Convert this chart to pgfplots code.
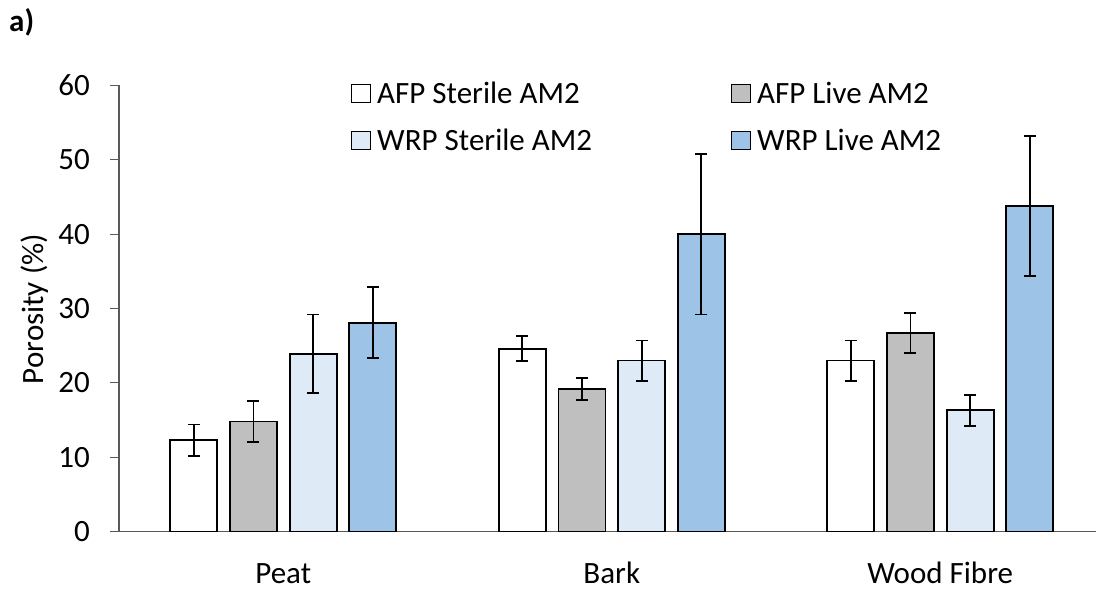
\documentclass[border=0pt]{standalone}
\usepackage{fontspec}
\setmainfont{Carlito}
\usepackage{pgfplots}
\pgfplotsset{compat=1.18}
\definecolor{axgray}{HTML}{595959}
\definecolor{cgrey}{HTML}{BFBFBF}
\definecolor{clblue}{HTML}{DEEBF7}
\definecolor{cblue}{HTML}{9DC3E6}
\begin{document}
\begin{tikzpicture}[x=1pt,y=1pt]
\path[use as bounding box] (0,0) rectangle (1096,590);
\begin{axis}[
  at={(119pt,58.5pt)}, anchor=south west,
  scale only axis, width=977pt, height=446pt,
  xmin=-0.5, xmax=2.474, ymin=0, ymax=60,
  axis lines*=left,
  axis line style={draw=axgray, line width=1.3pt},
  ytick={0,10,...,60},
  xtick={0,1,2}, xticklabels={Peat,Bark,Wood Fibre},
  x tick style={draw=none},
  y tick style={draw=axgray, line width=1.3pt},
  major tick length=9pt, tick align=outside, tick pos=left,
  /pgf/number format/assume math mode=true,
  tick label style={font=\fontsize{31}{37}\selectfont, inner sep=0pt},
  yticklabel style={anchor=east, xshift=-20pt},
  xticklabel style={anchor=base, yshift=-43pt},
  ybar=12.7pt, bar width=47pt,
  every axis plot/.append style={draw=black, line width=1.8pt,
    error bars/y dir=both, error bars/y explicit,
    error bars/error bar style={line width=1.8pt, black},
    error bars/error mark options={rotate=90, mark size=6pt, line width=1.8pt, black}},
  legend columns=2,
  legend image code/.code={\draw[#1, line width=1.2pt] (0pt,-9pt) rectangle (19pt,9pt);},
  legend style={at={(axis description cs:0.2375,1.0045)}, anchor=north west,
    draw=none, fill=none, inner sep=0pt, outer sep=0pt,
    font=\fontsize{31}{37}\selectfont,
    nodes={inner sep=0pt, text height=20pt, text depth=0pt},
    row sep=27pt,
    /tikz/every odd column/.style={column sep=6pt},
    /tikz/every even column/.style={column sep=139pt}},
  legend cell align=left,
]
\addplot[fill=white] coordinates {(0,12.3) +- (0,2.1) (1,24.6) +- (0,1.7) (2,23.0) +- (0,2.7)};
\addlegendentry{AFP Sterile AM2}
\addplot[fill=cgrey] coordinates {(0,14.8) +- (0,2.8) (1,19.2) +- (0,1.5) (2,26.7) +- (0,2.7)};
\addlegendentry{AFP Live AM2}
\addplot[fill=clblue] coordinates {(0,23.9) +- (0,5.3) (1,23.0) +- (0,2.7) (2,16.3) +- (0,2.1)};
\addlegendentry{WRP Sterile AM2}
\addplot[fill=cblue] coordinates {(0,28.1) +- (0,4.8) (1,40.0) +- (0,10.8) (2,43.8) +- (0,9.4)};
\addlegendentry{WRP Live AM2}
\end{axis}
\node[rotate=90, font=\fontsize{31}{37}\selectfont, inner sep=0pt] at (35,281) {Porosity (\%)};
\node[anchor=base west, font=\fontsize{31}{37}\selectfont\bfseries, inner sep=0pt] at (9,558) {a)};
\end{tikzpicture}
\end{document}
